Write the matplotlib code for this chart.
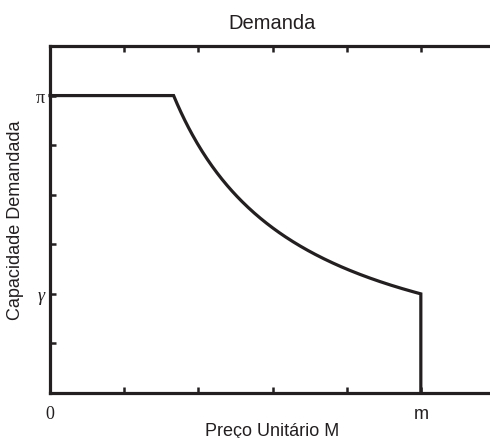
import numpy as np
import matplotlib
matplotlib.use("Agg")
import matplotlib.pyplot as plt

# data
x_flat = [0.0, 10.0 / 6.0]
y_flat = [6.0, 6.0]
k_const = 10.0            # demand curve y = k / x
x_curve_start, x_curve_end = 10.0 / 6.0, 5.0
x_drop = [5.0, 5.0]
y_drop = [2.0, 0.0]
xticks = [0, 1, 2, 3, 4, 5, 6]
xticklabels = ["0", "", "", "", "", "m", ""]
yticks = [1, 2, 3, 4, 5, 6]
yticklabels = ["", "γ", "", "", "", "π"]

col = "#231f20"
fig = plt.figure(figsize=(4.9, 4.39), dpi=100)
ax = fig.add_axes([50 / 490, 1 - 394 / 439, 445 / 490, 347 / 439])

xc = np.linspace(x_curve_start, x_curve_end, 200)
yc = k_const / xc
xs = list(x_flat) + list(xc) + list(x_drop)
ys = list(y_flat) + list(yc) + list(y_drop)
ax.plot(xs, ys, color=col, lw=2.3, solid_joinstyle="miter", clip_on=False)

ax.set_xlim(0, 6)
ax.set_ylim(0, 7)
for s in ["left", "top", "bottom"]:
    ax.spines[s].set_linewidth(2.3)
    ax.spines[s].set_color(col)
ax.spines["right"].set_visible(False)

ax.set_xticks(xticks)
ax.set_xticklabels(xticklabels)
ax.set_yticks(yticks)
ax.set_yticklabels(yticklabels)
ax.tick_params(axis="both", direction="in", length=4, width=1.8, color=col,
               labelcolor=col, labelsize=13)
ax.tick_params(axis="x", top=True, pad=9)
ax.tick_params(axis="y", pad=4)

for lab in ax.get_xticklabels():
    if lab.get_text() == "0":
        lab.set_fontfamily("Liberation Serif")
    else:
        lab.set_fontfamily("Liberation Sans")
for lab in ax.get_yticklabels():
    lab.set_fontfamily("Liberation Serif")
    if lab.get_text() == "γ":
        lab.set_fontstyle("italic")

ax.set_title("Demanda", fontsize=14.5, family="Liberation Sans", color=col, pad=13)
ax.set_xlabel("Preço Unitário M", fontsize=13, family="Liberation Sans", color=col, labelpad=0)
ax.set_ylabel("Capacidade Demandada", fontsize=13, family="Liberation Sans", color=col, labelpad=8)

fig.savefig("out.png", dpi=100)
